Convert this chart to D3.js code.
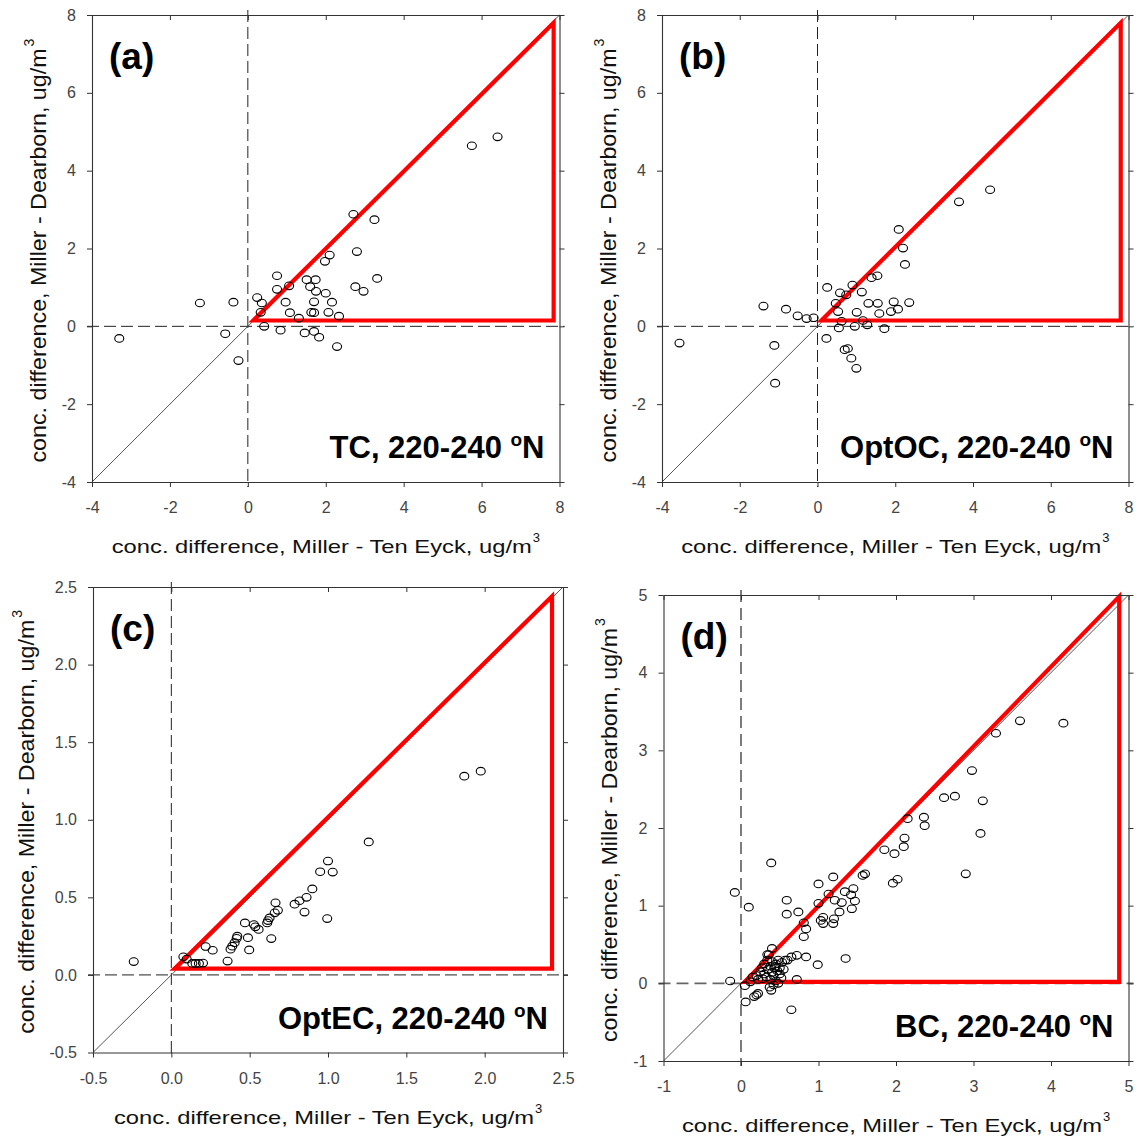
<!DOCTYPE html>
<html><head><meta charset="utf-8">
<script src="https://cdn.jsdelivr.net/npm/d3@7"></script>
<style>body{margin:0;background:#fff}svg{display:block}text{font-family:"Liberation Sans",Arial,sans-serif}</style>
</head><body>
<svg id="chart" width="1144" height="1137"></svg>
<script>
// ---------------- data ----------------
const tcX = [-3.30,-1.23,-0.37,-0.58,-0.24,0.24,0.36,0.33,0.42,0.75,0.75,1.06,0.97,1.08,1.31,0.84,1.51,1.74,1.60,1.75,1.70,1.63,1.70,1.46,1.70,1.83,2.00,1.98,2.10,2.16,2.07,2.34,2.29,2.71,2.80,2.76,2.97,3.25,3.32,5.75,6.41];
const tcY = [-0.31,0.60,0.62,-0.19,-0.88,0.74,0.60,0.36,0.00,1.30,0.95,1.04,0.62,0.35,0.21,-0.10,1.20,1.20,1.02,0.90,0.63,0.36,0.35,-0.17,-0.13,-0.28,0.85,1.67,1.83,0.62,0.36,0.26,-0.52,2.88,1.92,1.02,0.90,2.74,1.23,4.64,4.87];

const ocX = [-3.55,-1.39,-1.11,-1.09,-0.81,-0.51,-0.28,-0.10,0.23,0.25,0.47,0.53,0.58,0.62,0.55,0.70,0.78,0.87,1.00,0.90,1.01,0.96,1.14,1.17,1.28,1.31,1.39,1.54,1.55,1.59,1.72,1.89,1.96,2.07,2.36,2.09,2.20,2.25,3.64,4.44,0.74];
const ocY = [-0.43,0.52,-0.49,-1.46,0.44,0.27,0.20,0.22,-0.31,1.00,0.59,0.38,0.86,0.13,-0.04,-0.60,-0.57,-0.82,-1.08,1.06,0.36,0.00,0.88,0.15,0.04,0.59,1.25,1.30,0.59,0.33,-0.06,0.38,0.63,0.44,0.61,2.49,2.01,1.59,3.20,3.51,0.81];

const ecX = [-0.24,0.077,0.098,0.134,0.155,0.176,0.202,0.219,0.264,0.359,0.378,0.389,0.404,0.417,0.421,0.47,0.489,0.497,0.527,0.536,0.557,0.612,0.617,0.627,0.638,0.66,0.665,0.68,0.787,0.818,0.85,0.863,0.90,0.95,1.00,1.03,0.995,1.26,1.87,1.975];
const ecY = [0.086,0.117,0.102,0.074,0.074,0.074,0.076,0.183,0.159,0.089,0.166,0.185,0.208,0.236,0.25,0.335,0.24,0.161,0.325,0.31,0.293,0.335,0.35,0.367,0.234,0.40,0.465,0.416,0.456,0.478,0.405,0.50,0.554,0.665,0.734,0.663,0.363,0.857,1.281,1.313];

const bcX = [-0.14,-0.08,0.10,0.39,0.59,0.59,0.74,0.81,0.81,0.84,1.00,1.00,1.03,1.06,1.06,1.19,1.13,1.19,1.20,1.21,1.27,1.30,1.34,1.42,1.45,1.43,1.47,1.57,1.60,1.85,1.98,1.96,2.02,2.11,2.10,2.15,2.36,2.37,2.62,2.76,2.98,3.12,3.09,2.90,3.29,3.60,4.16,1.35,0.99,0.72,0.65,0.84,0.72,0.65,0.60,0.06,0.17,0.20,0.22,0.05,0.39,0.40,0.34,
  0.12,0.15,0.20,0.22,0.25,0.27,0.30,0.30,0.33,0.34,0.35,0.36,0.38,0.38,0.40,0.40,0.42,0.43,0.45,0.45,0.47,0.48,0.50,0.50,0.52,0.53,0.55,0.57,0.37,0.42,0.48,0.28,0.44];
const bcY = [0.03,1.17,0.98,1.55,1.07,0.89,0.92,0.78,0.60,0.70,1.28,1.03,0.81,0.85,0.77,1.37,1.15,0.77,0.83,1.07,0.92,1.04,1.18,1.14,1.22,0.96,1.06,1.39,1.41,1.72,1.67,1.29,1.34,1.87,1.76,2.12,2.14,2.03,2.39,2.41,2.74,2.35,1.93,1.41,3.22,3.38,3.35,0.32,0.24,0.05,-0.34,0.34,0.36,0.34,0.30,-0.24,-0.17,-0.15,-0.13,-0.03,-0.09,0.45,0.37,
  0.02,0.08,0.10,0.05,0.15,0.20,0.12,0.25,0.08,0.30,0.18,0.37,0.22,0.05,0.14,0.28,0.10,0.20,0.03,0.25,0.16,0.30,0.12,0.20,0.07,0.27,0.18,0.30,-0.05,-0.02,0.00,0.06,0.22];

const ticksTC = [-4,-2,0,2,4,6,8];
const ticksOC = [-4,-2,0,2,4,6,8];
const ticksEC = [-0.5,0.0,0.5,1.0,1.5,2.0,2.5];
const ticksBC = [-1,0,1,2,3,4,5];

const domTC = [-4,8], domOC = [-4,8], domEC = [-0.5,2.5], domBC = [-1,5];

const triTC = [[0.14,0.15],[7.85,7.8],[7.85,0.15]];
const triOC = [[0.10,0.15],[7.8,7.8],[7.8,0.15]];
const triEC = [[0.02,0.04],[2.43,2.44],[2.43,0.04]];
const triBC = [[0.05,0.02],[4.88,4.98],[4.88,0.02]];

const panelLabels = ["(a)","(b)","(c)","(d)"];
const species = ["TC","OptOC","OptEC","BC"];
const regionText = ", 220-240 ";
const xTitle = "conc. difference, Miller - Ten Eyck, ug/m";
const yTitle = "conc. difference, Miller - Dearborn, ug/m";

// ---------------- drawing ----------------
const fmtInt = d => String(d);
const fmtDec = d => d.toFixed(1);
const svg = d3.select("#chart");

const panels = [
  {xs:tcX, ys:tcY, dom:domTC, ticks:ticksTC, tri:triTC, fmt:fmtInt, box:[92,559.5,15,482], yt:46, dash:"thin"},
  {xs:ocX, ys:ocY, dom:domOC, ticks:ticksOC, tri:triOC, fmt:fmtInt, box:[662,1128.5,15,482], yt:46, dash:"thin"},
  {xs:ecX, ys:ecY, dom:domEC, ticks:ticksEC, tri:triEC, fmt:fmtDec, box:[93,563,587,1052.5], yt:59, dash:"thin"},
  {xs:bcX, ys:bcY, dom:domBC, ticks:ticksBC, tri:triBC, fmt:fmtInt, box:[663.5,1128.5,595,1061], yt:47, dash:"thick"}
];

panels.forEach((p, i) => {
  const [L, R, T, B] = p.box;
  const x = d3.scaleLinear().domain(p.dom).range([L, R]);
  const y = d3.scaleLinear().domain(p.dom).range([B, T]);
  const g = svg.append("g");

  // zero dashed lines
  const dashAttrs = p.dash === "thick"
    ? {stroke:"#666", w:1.7, da:"12,6"}
    : {stroke:"#222", w:1, da:"12,5"};
  g.append("line").attr("x1", x(0)).attr("x2", x(0)).attr("y1", T - 5).attr("y2", B + 5)
    .attr("stroke", dashAttrs.stroke).attr("stroke-width", dashAttrs.w).attr("stroke-dasharray", dashAttrs.da);
  g.append("line").attr("x1", L - 5).attr("x2", R + 5).attr("y1", y(0)).attr("y2", y(0))
    .attr("stroke", dashAttrs.stroke).attr("stroke-width", dashAttrs.w).attr("stroke-dasharray", dashAttrs.da);

  // 1:1 line
  g.append("line").attr("x1", x(p.dom[0])).attr("y1", y(p.dom[0]))
    .attr("x2", x(p.dom[1])).attr("y2", y(p.dom[1]))
    .attr("stroke", "#444").attr("stroke-width", 0.9);

  // red triangle
  g.append("path")
    .attr("d", d3.line().x(d => x(d[0])).y(d => y(d[1]))(p.tri) + "Z")
    .attr("fill", "none").attr("stroke", "#ff0000").attr("stroke-width", 4.2)
    .attr("stroke-linejoin", "miter");

  // points
  g.selectAll("ellipse.pt").data(p.xs.map((v, k) => [v, p.ys[k]])).enter()
    .append("ellipse").attr("class", "pt")
    .attr("cx", d => x(d[0])).attr("cy", d => y(d[1]))
    .attr("rx", 4.5).attr("ry", 3.8)
    .attr("fill", "none").attr("stroke", "#000").attr("stroke-width", 1.1);

  // axes
  const styleAxis = (sel) => {
    sel.attr("color", "#333").attr("font-size", 16)
      .attr("font-family", '"Liberation Sans", Arial, sans-serif');
    sel.selectAll("text").attr("fill", "#444");
    sel.select(".domain").attr("stroke-width", 1.1);
  };
  g.append("g").attr("transform", `translate(0,${B})`)
    .call(d3.axisBottom(x).tickValues(p.ticks).tickFormat(p.fmt).tickSizeInner(5).tickSizeOuter(0).tickPadding(15))
    .call(styleAxis);
  g.append("g").attr("transform", `translate(${L},0)`)
    .call(d3.axisLeft(y).tickValues(p.ticks).tickFormat(p.fmt).tickSizeInner(5).tickSizeOuter(0).tickPadding(11))
    .call(styleAxis);
  g.append("g").attr("transform", `translate(0,${T})`)
    .call(d3.axisTop(x).tickValues(p.ticks).tickFormat("").tickSizeInner(-5).tickSizeOuter(0))
    .call(styleAxis);
  g.append("g").attr("transform", `translate(${R},0)`)
    .call(d3.axisRight(y).tickValues(p.ticks).tickFormat("").tickSizeInner(5).tickSizeOuter(0))
    .call(styleAxis);

  // x title
  const cx = (L + R) / 2 - 4;
  const xb = B + 71;
  g.append("text").attr("x", cx).attr("y", xb).attr("text-anchor", "middle")
    .attr("font-size", 19).attr("fill", "#111")
    .attr("textLength", 420).attr("lengthAdjust", "spacingAndGlyphs").text(xTitle);
  g.append("text").attr("x", cx + 211).attr("y", xb - 11).attr("font-size", 13).attr("fill", "#111").text("3");

  // y title
  const yg = g.append("g").attr("transform", `translate(${L - p.yt},${(T + B) / 2 + 7}) rotate(-90)`);
  yg.append("text").attr("x", 0).attr("y", 0).attr("text-anchor", "middle")
    .attr("font-size", 22).attr("fill", "#111")
    .attr("textLength", 414).attr("lengthAdjust", "spacingAndGlyphs").text(yTitle);
  yg.append("text").attr("x", 209).attr("y", -12).attr("font-size", 14).attr("fill", "#111").text("3");

  // panel label
  g.append("text").attr("x", L + 17).attr("y", T + 54)
    .attr("font-size", 37).attr("font-weight", "bold").attr("fill", "#000").text(panelLabels[i]);

  // species label
  const st = g.append("text").attr("x", R - 15).attr("y", B - 24).attr("text-anchor", "end")
    .attr("font-size", 31).attr("font-weight", "bold").attr("fill", "#000");
  st.append("tspan").text(species[i] + regionText);
  st.append("tspan").attr("font-size", 19).attr("dy", -12).text("o");
  st.append("tspan").attr("dy", 12).text("N");
});
</script>
</body></html>
